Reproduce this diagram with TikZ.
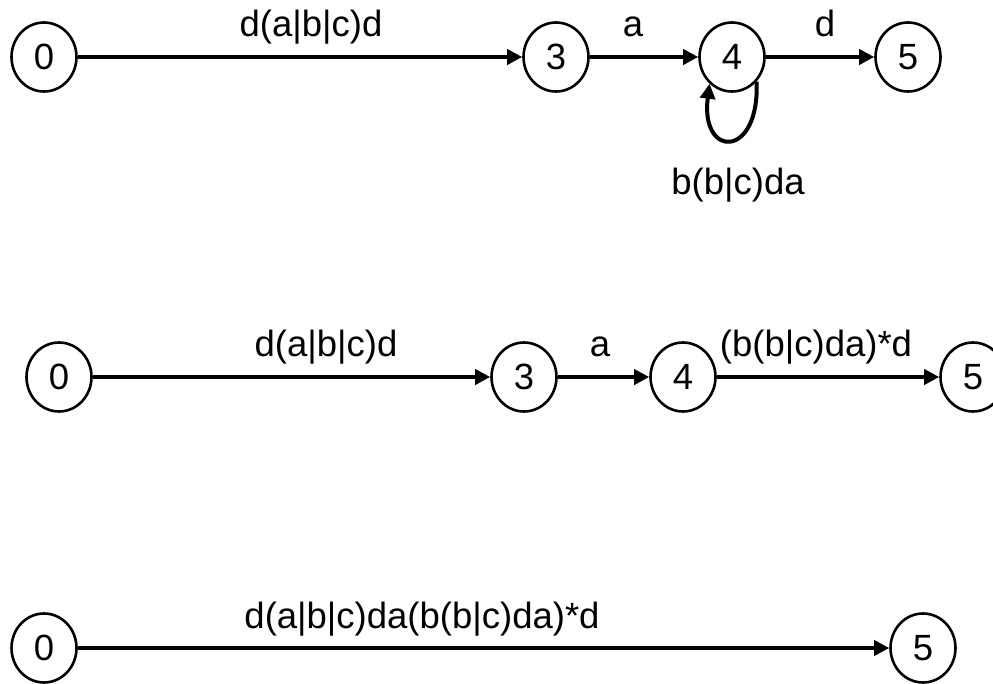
\documentclass[tikz,border=0pt]{standalone}
\usepackage{fontspec}
\setmainfont{Liberation Sans}
\usetikzlibrary{arrows.meta,shapes.geometric}

\tikzset{
  state/.style={ellipse, draw, line width=2.6pt, minimum width=65pt,
    minimum height=69pt, inner sep=0pt, font=\fontsize{36.5}{44}\selectfont},
  lbl/.style={anchor=base, inner sep=0pt, font=\fontsize{36.5}{44}\selectfont},
  trans/.style={line width=4pt, -{Triangle[length=15pt,width=15pt]}}
}

\begin{document}
\begin{tikzpicture}[x=1pt,y=-1pt]
\useasboundingbox (0,0) rectangle (993,684);

% first automaton: states 0, 3, 4, 5 with a loop on 4
\node[state] (a0) at (44,57) {0};
\node[state] (a3) at (556,57) {3};
\node[state] (a4) at (732,57) {4};
\node[state] (a5) at (908,57) {5};
\draw[trans] (a0) -- (a3);
\draw[trans] (a3) -- (a4);
\draw[trans] (a4) -- (a5);
\draw[trans] (a4.-45) .. controls (760,159) and (700,159) .. (a4.-130);
\node[lbl] (la03) at (311,37) {d(a|b|c)d};
\node[lbl] (la34) at (633,37) {a};
\node[lbl] (la45) at (825,37) {d};
\node[lbl] (la44) at (738,195) {b(b|c)da};

% second automaton: loop on 4 removed
\node[state] (b0) at (59,377) {0};
\node[state] (b3) at (524,377) {3};
\node[state] (b4) at (683,377) {4};
\node[state] (b5) at (973,377) {5};
\draw[trans] (b0) -- (b3);
\draw[trans] (b3) -- (b4);
\draw[trans] (b4) -- (b5);
\node[lbl] (lb03) at (326,356) {d(a|b|c)d};
\node[lbl] (lb34) at (600,356) {a};
\node[lbl] (lb45) at (816,356) {(b(b|c)da)*d};

% third automaton: a single transition
\node[state] (c0) at (44,648) {0};
\node[state] (c5) at (923,648) {5};
\draw[trans] (c0) -- (c5);
\node[lbl] (lc05) at (422,628) {d(a|b|c)da(b(b|c)da)*d};
\end{tikzpicture}
\end{document}
